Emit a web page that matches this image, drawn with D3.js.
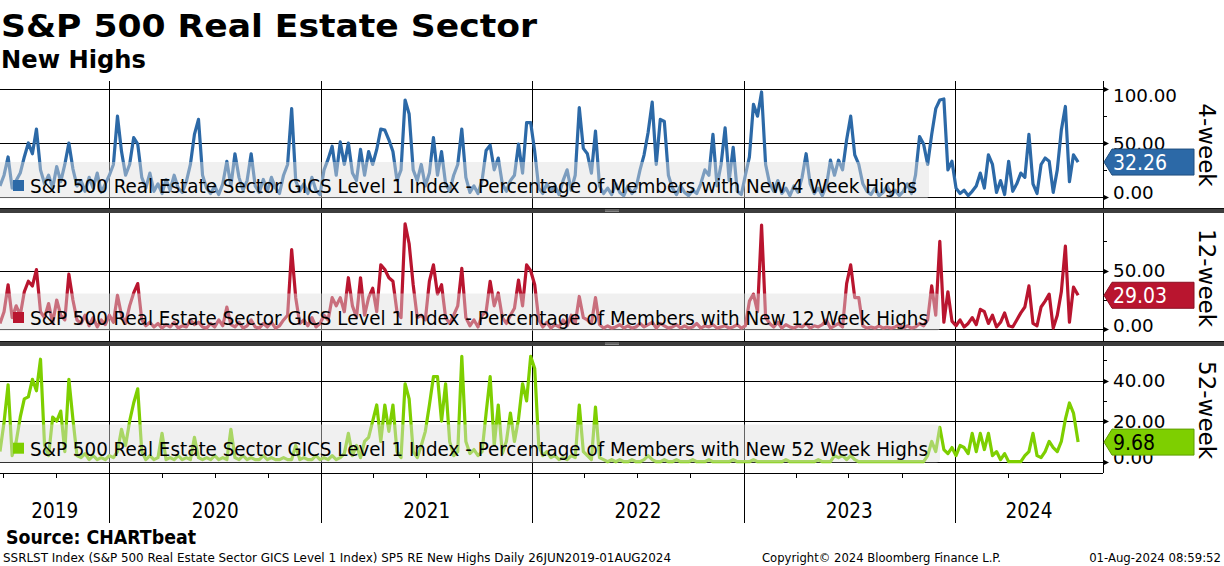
<!DOCTYPE html>
<html>
<head>
<meta charset="utf-8">
<script src="https://cdn.jsdelivr.net/npm/d3@7"></script>
<style>
  body { margin: 0; background: #fff; }
  svg { display: block; }
  text { font-family: "DejaVu Sans", sans-serif; fill: #000; }
  .cond { font-family: "DejaVu Sans Condensed", "DejaVu Sans", sans-serif; }
</style>
</head>
<body>
<div id="chart"></div>
<script>
// weekly readings, 26 Jun 2019 -> 01 Aug 2024 (last point is the 01 Aug close)
const blue4 = [
  10, 20, 37, 8, 15, 22, 37, 50, 40, 63,
  25, 12, 20, 8, 28, 14, 30, 50, 26, 10,
  15, 5, 18, 8, 22, 4, 12, 20, 30, 75,
  42, 20, 30, 55, 49, 18, 8, 22, 5, 12,
  3, 16, 6, 20, 8, 4, 14, 30, 58, 72,
  20, 8, 3, 10, 2, 12, 33, 10, 40, 18,
  6, 15, 40, 10, 4, 16, 5, 18, 8, 3,
  20, 30, 82, 15, 5, 12, 3, 18, 6, 2,
  25, 35, 47, 20, 51, 30, 50, 22, 15, 44,
  20, 42, 30, 44, 63, 62, 53, 42, 15, 25,
  90, 77, 25, 15, 30, 10, 22, 55, 20, 42,
  12, 5, 20, 30, 63, 18, 4, 10, 3, 15,
  43, 48, 25, 36, 12, 5, 15, 20, 49, 22,
  69, 69, 42, 8, 3, 12, 5, 10, 2, 15,
  25, 6, 20, 83, 45, 40, 22, 61, 10, 3,
  8, 2, 12, 4, 1, 10, 3, 8, 25, 39,
  60, 88, 30, 72, 70, 20, 8, 2, 10, 4,
  1, 6, 3, 12, 25, 20, 58, 10, 30, 64,
  15, 46, 5, 2, 20, 37, 86, 75, 97.5, 30,
  12, 5, 15, 3, 8, 1, 10, 4, 18, 40,
  12, 3, 8, 1, 10, 34, 20, 34, 25, 53,
  75, 39, 30, 12, 5, 2, 8, 1, 4, 10,
  2, 6, 1, 5, 12, 3, 20, 56, 49, 30,
  58, 82, 90, 91, 25, 33, 8, 3, 6, 1,
  5, 10, 22, 8, 39, 30, 4, 15, 2, 33,
  5, 12, 22, 18, 58, 12, 3, 30, 36, 33,
  4, 25, 62, 84, 14, 39, 32.26
];
const red12 = [
  5, 15, 38, 10, 20, 12, 32, 41, 37, 51,
  15, 10, 22, 5, 25, 12, 8, 47, 25, 8,
  5, 12, 3, 10, 2, 8, 4, 12, 6, 29,
  12, 5, 20, 31, 39, 8, 3, 6, 2, 5,
  1, 4, 2, 6, 1, 3, 2, 8, 4, 6,
  2, 1, 5, 2, 8, 3, 19, 4, 2, 6,
  1, 3, 8, 2, 1, 5, 2, 6, 1, 3,
  8, 12, 68, 27, 5, 8, 3, 10, 2, 5,
  12, 8, 27, 20, 27, 15, 44, 20, 10, 44,
  12, 27, 35, 15, 55, 51, 44, 41, 15, 10,
  90, 73, 38, 10, 12, 8, 41, 55, 30, 38,
  10, 5, 12, 20, 52, 10, 3, 8, 2, 12,
  15, 41, 20, 31, 10, 5, 12, 18, 42, 20,
  55, 50, 38, 8, 2, 6, 1, 4, 2, 8,
  3, 12, 5, 28, 10, 8, 5, 27, 4, 1,
  3, 1, 2, 4, 1, 3, 1, 2, 5, 2,
  4, 6, 1, 5, 3, 1, 2, 4, 1, 3,
  1, 2, 5, 1, 3, 2, 4, 1, 2, 3,
  1, 2, 4, 1, 3, 24, 30, 15, 89, 10,
  5, 2, 6, 1, 4, 2, 1, 3, 2, 5,
  1, 3, 2, 4, 8, 1, 3, 5, 2, 39,
  55, 27, 27, 3, 1, 2, 1, 3, 1, 2,
  1, 2, 4, 1, 3, 1, 2, 5, 3, 8,
  37, 12, 75, 6, 32, 7, 3, 8, 2, 5,
  10, 4, 17, 15, 5, 12, 2, 6, 14, 3,
  2, 8, 14, 19, 37, 5, 3, 19, 24, 30,
  1, 12, 32, 71, 6, 36, 29.03
];
const green52 = [
  5, 19.5, 38, 3, 10, 22, 31, 32, 40.7, 35,
  50.6, 8, 3, 22, 20, 25, 5, 40.7, 21, 3,
  2, 4, 1, 3, 1, 2, 1, 3, 2, 5,
  16, 8, 20, 29, 36, 5, 1, 3, 1, 2,
  14, 1, 2, 1, 3, 1, 2, 1, 12, 2,
  1, 2, 1, 3, 1, 2, 1, 16, 2, 1,
  3, 1, 2, 1, 1, 3, 1, 2, 1, 1,
  2, 1, 1, 8, 1, 2, 1, 1, 3, 1,
  2, 1, 3, 1, 2, 4, 14, 3, 8, 2,
  10, 12, 20, 28, 10, 28, 15, 28, 5, 2,
  38.5, 31, 5, 2, 8, 15, 28, 42, 42, 20,
  38.5, 10, 3, 5, 52, 10, 4, 6, 3, 5,
  24, 42, 8, 28, 4, 10, 24, 10, 21, 38.5,
  30, 52, 46, 8, 3, 5, 2, 3, 1, 2,
  1, 3, 2, 28, 5, 3, 1, 27, 2, 1,
  0, 1, 0, 1, 0, 0, 1, 0, 0, 1,
  3, 1, 0, 0, 1, 0, 0, 1, 0, 0,
  0, 1, 0, 0, 0, 1, 0, 0, 0, 0,
  0, 1, 0, 0, 0, 0, 1, 0, 0, 0,
  0, 0, 0, 0, 1, 0, 0, 0, 0, 0,
  0, 0, 1, 0, 0, 0, 3, 2, 3, 1,
  3, 1, 0, 0, 0, 0, 0, 0, 0, 0,
  0, 0, 0, 0, 0, 0, 0, 0, 0, 3,
  10, 5, 17, 6, 4, 7, 3, 8, 7, 4,
  14, 5, 14, 6, 14, 3, 5, 1, 4, 0,
  0, 0, 0, 3, 5, 14, 3, 2, 5, 10,
  7, 5, 10, 21, 29, 24, 9.68
];
const panelLabels = ['4-week', '12-week', '52-week'];
const weekCounts = ['4', '12', '52'];
const majorTicks = [[0, 50, 100], [0, 50], [0, 20, 40]];
const minorTicks = [[25, 75], [25, 75], [10, 30, 50]];

const startDate = new Date(2019, 5, 26);
const lastDate = new Date(2024, 7, 1);
const dates = d3.range(blue4.length).map(i =>
  i === blue4.length - 1 ? lastDate : d3.timeDay.offset(startDate, 7 * i));

const W = 1224, H = 566;
const axisX = 1103;
const svg = d3.select('#chart').append('svg').attr('width', W).attr('height', H);
const x = d3.scaleTime().domain([startDate, new Date(2024, 8, 13)]).range([0, axisX]);

const panels = [
  { data: blue4, color: '#2c69a7', tagText: '#fff', top: 81, bottom: 208,
    y: d3.scaleLinear().domain([0, 100]).range([196.7, 89.3]),
    boxY: 162, boxH: 36.5, boxW: 935, textY: 193, textLen: 887, labelY: 145 },
  { data: red12, color: '#b9152f', tagText: '#fff', top: 213, bottom: 341,
    y: d3.scaleLinear().domain([0, 50]).range([329.3, 270.7]),
    boxY: 293.5, boxH: 37.5, boxW: 946, textY: 325, textLen: 898, labelY: 278 },
  { data: green52, color: '#7ecf00', tagText: '#000', top: 346, bottom: 473,
    y: d3.scaleLinear().domain([0, 40]).range([461.7, 380.7]),
    boxY: 424.5, boxH: 38, boxW: 946, textY: 455.7, textLen: 898, labelY: 410 }
];

// title
svg.append('text').attr('class', 'cond').attr('x', 1).attr('y', 37)
  .attr('font-size', 32).attr('font-weight', 'bold')
  .attr('textLength', 536).attr('lengthAdjust', 'spacingAndGlyphs')
  .text('S&P 500 Real Estate Sector');
svg.append('text').attr('class', 'cond').attr('x', 1).attr('y', 68)
  .attr('font-size', 25).attr('font-weight', 'bold')
  .attr('textLength', 145).attr('lengthAdjust', 'spacingAndGlyphs')
  .text('New Highs');

// year boundaries
const years = d3.timeYear.range(new Date(2020, 0, 1), new Date(2025, 0, 1));
svg.append('g').selectAll('line').data(years).join('line')
  .attr('x1', d => Math.round(x(d)) + 0.5).attr('x2', d => Math.round(x(d)) + 0.5)
  .attr('y1', 81).attr('y2', 523)
  .attr('stroke', '#000').attr('stroke-width', 1);

panels.forEach((p, i) => {
  const g = svg.append('g');
  const clipId = 'clip' + i;
  svg.append('clipPath').attr('id', clipId).append('rect')
    .attr('x', 0).attr('y', p.top).attr('width', axisX).attr('height', p.bottom - p.top);

  // grid lines
  g.selectAll('.grid').data(majorTicks[i]).join('line')
    .attr('x1', 0).attr('x2', axisX)
    .attr('y1', d => Math.round(p.y(d)) + 0.5).attr('y2', d => Math.round(p.y(d)) + 0.5)
    .attr('stroke', '#000').attr('stroke-width', 1);

  const pts = p.data.map((v, k) => ({ date: dates[k], v }));
  g.append('path').datum(pts)
    .attr('clip-path', `url(#${clipId})`)
    .attr('fill', 'none').attr('stroke', p.color).attr('stroke-width', 3.2)
    .attr('stroke-linejoin', 'round')
    .attr('d', d3.line().x(d => x(d.date)).y(d => p.y(d.v)));

  // legend
  g.append('rect').attr('x', -6).attr('y', p.boxY).attr('width', p.boxW).attr('height', p.boxH)
    .attr('rx', 4).attr('fill', '#dedede').attr('fill-opacity', 0.45);
  g.append('rect').attr('x', 13).attr('y', p.textY - 13).attr('width', 11).attr('height', 11)
    .attr('fill', p.color);
  g.append('text').attr('class', 'cond').attr('x', 30).attr('y', p.textY)
    .attr('font-size', 19.5)
    .attr('textLength', p.textLen).attr('lengthAdjust', 'spacingAndGlyphs')
    .text(`S&P 500 Real Estate Sector GICS Level 1 Index - Percentage of Members with New ${weekCounts[i]} Week Highs`);

  // right axis
  g.append('line').attr('x1', axisX + 0.5).attr('x2', axisX + 0.5)
    .attr('y1', p.top).attr('y2', p.bottom).attr('stroke', '#000');
  g.selectAll('.tri').data(majorTicks[i]).join('path')
    .attr('d', d => {
      const yy = Math.round(p.y(d)) + 0.5;
      return `M${axisX},${yy - 3}L${axisX + 6},${yy}L${axisX},${yy + 3}Z`;
    })
    .attr('fill', '#000');
  g.selectAll('.minor').data(minorTicks[i]).join('line')
    .attr('x1', axisX).attr('x2', axisX + 4)
    .attr('y1', d => Math.round(p.y(d)) + 0.5).attr('y2', d => Math.round(p.y(d)) + 0.5)
    .attr('stroke', '#000');
  g.selectAll('.lab').data(majorTicks[i]).join('text')
    .attr('x', 1113)
    .attr('y', d => Math.min(p.bottom - 9, Math.max(p.top + 20.7, p.y(d) + 6.7)))
    .attr('font-size', 18.3)
    .text(d => d3.format('.2f')(d));

  // panel name
  g.append('text')
    .attr('transform', `translate(1199,${p.labelY}) rotate(90)`)
    .attr('text-anchor', 'middle').attr('font-size', 23)
    .text(panelLabels[i]);

  // last value tag
  const last = p.data[p.data.length - 1];
  const yc = p.y(last);
  g.append('path')
    .attr('d', `M${axisX + 1},${yc}L${axisX + 9},${yc - 13}L1194,${yc - 13}L1194,${yc + 13}L${axisX + 9},${yc + 13}Z`)
    .attr('fill', p.color).attr('stroke', d3.color(p.color).darker(0.8)).attr('stroke-width', 1);
  g.append('text').attr('class', 'cond').attr('x', 1113).attr('y', yc + 7.7)
    .attr('font-size', 21).style('fill', p.tagText)
    .text(d3.format('.2f')(last));
});

// panel separators
[208, 341].forEach(sy => {
  svg.append('rect').attr('x', 0).attr('y', sy).attr('width', W).attr('height', 5)
    .attr('fill', '#3d3d3d');
  svg.append('line').attr('x1', 0).attr('x2', W).attr('y1', sy + 0.5).attr('y2', sy + 0.5)
    .attr('stroke', '#111');
  [sy + 2, sy + 3.5].forEach(ly => svg.append('line')
    .attr('x1', 605).attr('x2', 619).attr('y1', ly).attr('y2', ly)
    .attr('stroke', '#9a9a9a').attr('stroke-width', 0.8));
});

// bottom axis
svg.append('line').attr('x1', 0).attr('x2', axisX).attr('y1', 473.5).attr('y2', 473.5)
  .attr('stroke', '#000');
const quarters = d3.timeMonth.every(3).range(new Date(2019, 6, 1), new Date(2024, 8, 13));
svg.append('g').selectAll('line').data(quarters).join('line')
  .attr('x1', d => Math.round(x(d)) + 0.5).attr('x2', d => Math.round(x(d)) + 0.5)
  .attr('y1', 473).attr('y2', 478).attr('stroke', '#000');

const yearLabels = ['2019', '2020', '2021', '2022', '2023', '2024'];
const bounds = [startDate, ...years, x.domain()[1]];
svg.append('g').selectAll('text').data(yearLabels).join('text')
  .attr('class', 'cond')
  .attr('x', (d, k) => (x(bounds[k]) + x(bounds[k + 1])) / 2)
  .attr('y', 518).attr('text-anchor', 'middle').attr('font-size', 20.5)
  .text(d => d);

// source & footer
svg.append('text').attr('class', 'cond').attr('x', 6).attr('y', 544)
  .attr('font-size', 19).attr('font-weight', 'bold')
  .attr('textLength', 190).attr('lengthAdjust', 'spacingAndGlyphs')
  .text('Source: CHARTbeat');
svg.append('text').attr('class', 'cond').attr('x', 3).attr('y', 562).attr('font-size', 13)
  .attr('textLength', 668).attr('lengthAdjust', 'spacingAndGlyphs')
  .text('SSRLST Index (S&P 500 Real Estate Sector GICS Level 1 Index) SP5 RE New Highs  Daily 26JUN2019-01AUG2024');
svg.append('text').attr('class', 'cond').attr('x', 762).attr('y', 562).attr('font-size', 13)
  .attr('textLength', 239).attr('lengthAdjust', 'spacingAndGlyphs')
  .text('Copyright\u00a9 2024 Bloomberg Finance L.P.');
svg.append('text').attr('class', 'cond').attr('x', 1221).attr('y', 562).attr('font-size', 13)
  .attr('text-anchor', 'end')
  .text('01-Aug-2024 08:59:52');
</script>
</body>
</html>
